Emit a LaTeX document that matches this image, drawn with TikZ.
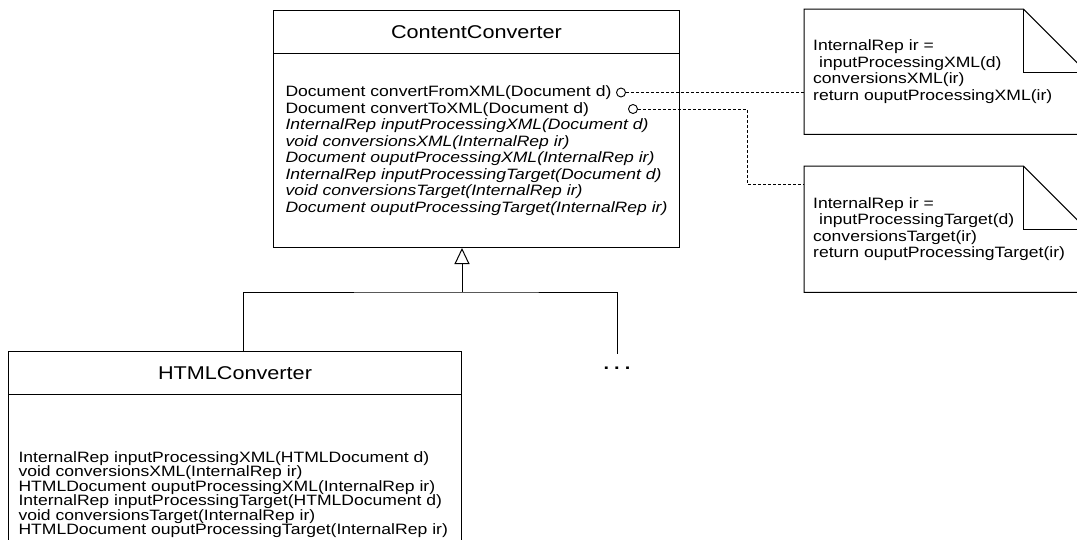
\documentclass[tikz,border=0pt]{standalone}
\usepackage{fontspec}
\setmainfont{Liberation Sans}[FakeStretch=1.17]
\usetikzlibrary{arrows.meta}

\newcommand\titlefont{\fontsize{18.5}{20}\selectfont}
\newcommand\opsfont{\fontsize{15}{16.5}\selectfont}
\newcommand\subopsfont{\fontsize{15}{14.5}\selectfont}

\tikzset{
  classhead/.style={draw, line width=1pt, anchor=north west, inner sep=0pt,
    minimum width=406pt, minimum height=43pt, font=\titlefont},
  classbody/.style={draw, line width=1pt, anchor=north west, inner xsep=12pt,
    text width=382pt, minimum height=194pt, align=left, font=\opsfont},
  notebox/.style={anchor=north west, inner xsep=9pt, text width=264pt,
    minimum height=125pt, align=left, font=\opsfont},
  port/.style={circle, draw, line width=0.9pt, minimum size=9pt, inner sep=0pt},
  noteline/.style={line width=0.9pt, dash pattern=on 3pt off 2pt},
}

\begin{document}
\begin{tikzpicture}[x=1pt, y=-1pt]
  \useasboundingbox (0,0) rectangle (1077,539);

  % abstract class
  \node[classhead] (cchead) at (273,10) {ContentConverter};
  \node[classbody] (ccbody) at (273,53) {%
    Document convertFromXML(Document d)\\
    Document convertToXML(Document d)\\
    \textit{InternalRep inputProcessingXML(Document d)}\\
    \textit{void conversionsXML(InternalRep ir)}\\
    \textit{Document ouputProcessingXML(InternalRep ir)}\\
    \textit{InternalRep inputProcessingTarget(Document d)}\\
    \textit{void conversionsTarget(InternalRep ir)}\\
    \textit{Document ouputProcessingTarget(InternalRep ir)}};
  \node[port] (portfrom) at (621,92.5) {};
  \node[port] (portto) at (633,109) {};

  % subclass
  \node[classhead, minimum width=453pt] (htmlhead) at (8,351) {HTMLConverter};
  \node[classbody, inner xsep=10pt, text width=433pt, minimum height=200pt, font=\subopsfont] (htmlbody) at (8,394) {%
    InternalRep inputProcessingXML(HTMLDocument d)\\
    void conversionsXML(InternalRep ir)\\
    HTMLDocument ouputProcessingXML(InternalRep ir)\\
    InternalRep inputProcessingTarget(HTMLDocument d)\\
    void conversionsTarget(InternalRep ir)\\
    HTMLDocument ouputProcessingTarget(InternalRep ir)};
  \node[font=\bfseries\fontsize{17}{20}\selectfont] (more) at (617,368) {.\hspace{5pt}.\hspace{5pt}.};

  % notes
  \node[notebox] (note1) at (804,9) {%
    InternalRep ir =\\
    \hspace*{6pt}inputProcessingXML(d)\\
    conversionsXML(ir)\\
    return ouputProcessingXML(ir)};
  \node[notebox, minimum height=126pt] (note2) at (804,166) {%
    InternalRep ir =\\
    \hspace*{6pt}inputProcessingTarget(d)\\
    conversionsTarget(ir)\\
    return ouputProcessingTarget(ir)};
  \draw[line width=1pt] (note1.north west) -- ([xshift=-63pt]note1.north east)
    -- ([yshift=-63pt]note1.north east) -- (note1.south east) -- (note1.south west) -- cycle;
  \draw[line width=1pt] ([xshift=-63pt]note1.north east) |- ([yshift=-63pt]note1.north east);
  \draw[line width=1pt] (note2.north west) -- ([xshift=-63pt]note2.north east)
    -- ([yshift=-63pt]note2.north east) -- (note2.south east) -- (note2.south west) -- cycle;
  \draw[line width=1pt] ([xshift=-63pt]note2.north east) |- ([yshift=-63pt]note2.north east);

  % generalization
  \coordinate (branch) at (462,292);
  \coordinate (otherend) at (617.7,354);
  \draw[line width=1pt] ([xshift=8.5pt]htmlhead.north) |- (branch) -| (otherend);
  \draw[line width=1pt, -{Triangle[open, length=16pt, width=15pt]}] (branch) -- (branch |- ccbody.south);

  % note links
  \coordinate (bend) at (747,184);
  \draw[noteline] (portfrom) -- (portfrom -| note1.west);
  \draw[noteline] (portto) -| (bend) -- (bend -| note2.west);
\end{tikzpicture}
\end{document}
